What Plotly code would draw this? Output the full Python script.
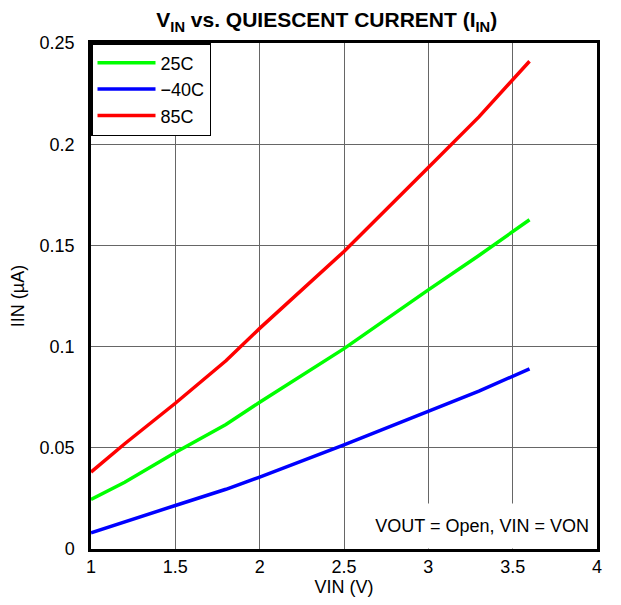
import plotly.graph_objects as go

vin = [1.0, 1.2, 1.5, 1.8, 2.0, 2.5, 3.0, 3.3, 3.6]
iin_25c = [0.0245, 0.033, 0.0477, 0.0615, 0.0725, 0.099, 0.128, 0.145, 0.1627]
iin_m40c = [0.008, 0.0135, 0.0215, 0.0295, 0.0355, 0.0515, 0.068, 0.078, 0.089]
iin_85c = [0.038, 0.052, 0.072, 0.093, 0.109, 0.147, 0.1885, 0.2135, 0.241]

series = [("25C", iin_25c, "#00ff00"), ("\u221240C", iin_m40c, "#0000ff"), ("85C", iin_85c, "#ff0000")]

x_ticks = [1, 1.5, 2, 2.5, 3, 3.5, 4]
x_tick_text = ["1", "1.5", "2", "2.5", "3", "3.5", "4"]
y_ticks = [0, 0.05, 0.1, 0.15, 0.2, 0.25]
y_tick_text = ["0", "0.05", "0.1", "0.15", "0.2", "0.25"]

FONT = "Liberation Sans, Arial, sans-serif"

fig = go.Figure()
for name, ys, col in series:
    fig.add_trace(go.Scatter(x=vin, y=ys, mode="lines", name=name,
                             line=dict(color=col, width=3.5)))

fig.update_layout(
    width=613, height=597,
    margin=dict(l=83, r=24, t=35, b=56),
    paper_bgcolor="white", plot_bgcolor="white",
    font=dict(family=FONT, size=18, color="black"),
    title=dict(text="<b>V<sub>IN</sub> vs. QUIESCENT CURRENT (I<sub>IN</sub>)</b>",
               x=0.52, xanchor="center", y=0.980, yanchor="middle",
               font=dict(size=21, family=FONT)),
    showlegend=True,
    legend=dict(x=0, y=1, xanchor="left", yanchor="top", bgcolor="white",
                bordercolor="black", borderwidth=1.5, font=dict(size=18),
                tracegroupgap=0, itemwidth=58),
    xaxis=dict(range=[1, 4], tickvals=x_ticks, ticktext=x_tick_text,
               showgrid=True, gridcolor="#666666", gridwidth=1,
               showline=True, linecolor="black", linewidth=2.5, mirror=True,
               ticks="", zeroline=False, tickfont=dict(size=18), automargin=False,
               title=dict(text="VIN (V)", standoff=5, font=dict(size=18))),
    yaxis=dict(range=[0, 0.25], tickvals=y_ticks, ticktext=y_tick_text,
               showgrid=True, gridcolor="#666666", gridwidth=1,
               showline=True, linecolor="black", linewidth=2.5, mirror=True,
               ticks="", zeroline=False, tickfont=dict(size=18), automargin=False,
               ticklabelstandoff=10,
               title=dict(text="IIN (\u00b5A)", standoff=12, font=dict(size=18))),
)

fig.add_annotation(text="VOUT = Open, VIN = VON", xref="paper", yref="paper",
                   x=1, y=0, xanchor="right", yanchor="bottom",
                   showarrow=False, bgcolor="white", font=dict(size=18),
                   width=226, height=30, align="right", valign="middle",
                   borderpad=7)

fig.write_html("out.html")
